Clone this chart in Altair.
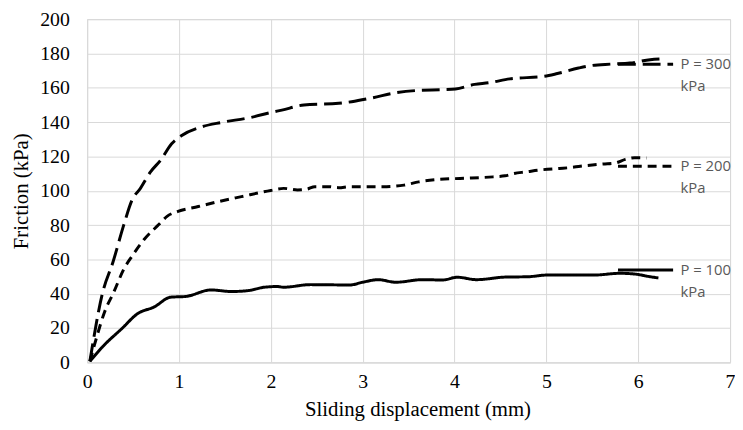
import altair as alt
import pandas as pd

# ---- data ----
series_names = ["P = 300 kPa", "P = 200 kPa", "P = 100 kPa"]

x300 = [0.03, 0.17, 0.28, 0.40, 0.49, 0.58, 0.69, 0.80, 0.92, 1.03, 1.25, 1.46, 1.78, 2.00,
        2.12, 2.36, 2.74, 2.88, 3.11, 3.36, 3.61, 3.87, 4.01, 4.22, 4.37, 4.60, 4.98, 5.12,
        5.35, 5.48, 5.70, 5.91, 6.13, 6.24]
y300 = [0.7, 40.9, 58.2, 80.3, 94.7, 101.4, 111.0, 117.8, 127.4, 132.2, 137.3, 139.8, 142.7, 145.6,
        147.0, 150.0, 151.0, 151.9, 154.2, 157.1, 158.5, 158.9, 159.3, 162.0, 162.9, 165.2, 166.7, 168.3,
        171.5, 172.9, 173.8, 174.4, 176.4, 176.8]

x200 = [0.03, 0.10, 0.19, 0.29, 0.40, 0.49, 0.62, 0.78, 0.87, 0.99, 1.21, 1.43, 1.68, 2.00,
        2.14, 2.29, 2.39, 2.48, 2.63, 2.74, 2.86, 3.22, 3.45, 3.61, 3.83, 4.06, 4.42, 4.55,
        4.65, 4.78, 4.91, 5.14, 5.26, 5.37, 5.62, 5.75, 5.86, 5.96, 6.09]
y200 = [0.6, 14.0, 29.4, 40.9, 54.4, 62.0, 71.6, 80.3, 85.1, 88.0, 90.8, 93.7, 96.6, 100.2,
        101.4, 100.5, 100.9, 102.4, 102.4, 101.8, 102.4, 102.4, 103.3, 105.2, 106.6, 107.2, 108.1, 108.7,
        110.1, 111.0, 112.0, 113.0, 113.5, 114.3, 115.6, 116.2, 118.3, 119.3, 119.1]

x100 = [0.03, 0.17, 0.38, 0.55, 0.73, 0.91, 1.07, 1.35, 1.57, 1.75, 1.93, 2.07, 2.14, 2.43,
        2.86, 3.00, 3.17, 3.36, 3.65, 3.87, 4.03, 4.24, 4.55, 4.80, 5.01, 5.52, 5.80, 5.96,
        6.13, 6.22]
y100 = [0.6, 9.2, 19.8, 28.4, 32.3, 38.0, 38.4, 42.2, 41.3, 41.8, 43.8, 44.2, 43.8, 45.3,
        45.1, 46.7, 48.2, 46.7, 48.2, 48.0, 49.6, 48.2, 49.7, 49.9, 50.9, 50.9, 51.9, 51.5,
        49.9, 49.2]

# legend entries (Excel legend placed inside the plot)
legend_first_line = ["P = 300", "P = 200", "P = 100"]
legend_second_line = ["kPa", "kPa", "kPa"]
legend_y = [173.7, 114.3, 53.8]
legend_x_start = [5.78, 5.78, 5.78]
legend_x_end = [6.38, 6.38, 6.38]
legend_text_x = [6.46, 6.46, 6.46]

x_ticks = [0, 1, 2, 3, 4, 5, 6, 7]
y_ticks = [0, 20, 40, 60, 80, 100, 120, 140, 160, 180, 200]

# ---- build tables ----
rows = []
for name, xs, ys in zip(series_names, [x300, x200, x100], [y300, y200, y100]):
    for i, (a, b) in enumerate(zip(xs, ys)):
        rows.append({"series": name, "order": i, "x": a, "y": b})
df = pd.DataFrame(rows)

leg = pd.DataFrame({
    "series": series_names,
    "x0": legend_x_start,
    "x1": legend_x_end,
    "y": legend_y,
    "tx": legend_text_x,
    "t1": legend_first_line,
    "t2": legend_second_line,
})

dash_scale = alt.Scale(domain=series_names, range=[[18, 7], [9, 6], [1, 0]])
xscale = alt.Scale(domain=[0, 7], nice=False)
yscale = alt.Scale(domain=[0, 200], nice=False)

serif = "Liberation Serif"

common_axis = dict(
    format="d", labelFlush=False, labelOverlap=False,
    labelFont=serif, labelFontSize=20, labelColor="black",
    titleFont=serif, titleFontSize=21, titleFontWeight="normal", titleColor="black",
    grid=True, gridColor="#d9d9d9", gridWidth=1,
    domainColor="#d9d9d9", domainWidth=1, ticks=False,
)
xaxis = alt.Axis(
    values=x_ticks, title="Sliding displacement (mm)", labelPadding=9,
    titleY=54, titleX=334, titleBaseline="alphabetic", **common_axis,
)
yaxis = alt.Axis(
    values=y_ticks, title="Friction (kPa)", labelPadding=18,
    titleX=-66, titleY=173.5, titleBaseline="middle", titleAngle=270, **common_axis,
)

lines = alt.Chart(df).mark_line(color="black", strokeWidth=3, interpolate="monotone").encode(
    x=alt.X("x:Q", scale=xscale, axis=xaxis),
    y=alt.Y("y:Q", scale=yscale, axis=yaxis),
    detail="series:N",
    order="order:Q",
    strokeDash=alt.StrokeDash("series:N", scale=dash_scale, legend=None),
)

samples = alt.Chart(leg).mark_rule(color="black", strokeWidth=3).encode(
    x=alt.X("x0:Q", scale=xscale, axis=xaxis),
    x2="x1:Q",
    y=alt.Y("y:Q", scale=yscale, axis=yaxis),
    strokeDash=alt.StrokeDash("series:N", scale=dash_scale, legend=None),
)

legend_font = dict(font="Open Sans", fontSize=15, color="#595959", align="left", baseline="middle")
text1 = alt.Chart(leg).mark_text(**legend_font).encode(
    x=alt.X("tx:Q", scale=xscale, axis=xaxis), y=alt.Y("y:Q", scale=yscale, axis=yaxis), text="t1:N"
)
text2 = alt.Chart(leg).mark_text(dy=22, **legend_font).encode(
    x=alt.X("tx:Q", scale=xscale, axis=xaxis), y=alt.Y("y:Q", scale=yscale, axis=yaxis), text="t2:N"
)

chart = alt.layer(lines, samples, text1, text2).properties(
    width=650,
    height=347,
    padding={"left": 80, "top": 9, "right": 5, "bottom": 58},
    autosize=alt.AutoSizeParams(type="none"),
    background="white",
).configure(font=serif).configure_view(stroke="#d9d9d9", strokeWidth=1).configure_axis(
    labelFont=serif, titleFont=serif
)

chart.save("out.html", embed_options={"renderer": "svg", "actions": False})
